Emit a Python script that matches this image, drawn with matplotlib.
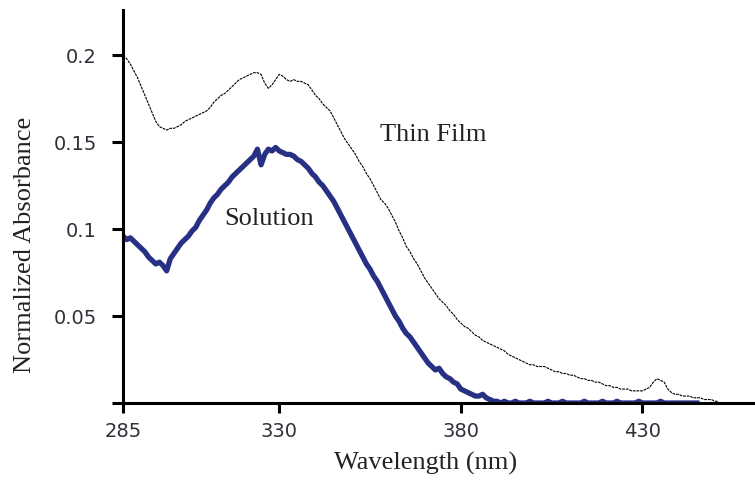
import numpy as np
import matplotlib
matplotlib.use("Agg")
import matplotlib.pyplot as plt

# wavelength grid (nm), one reading per nm
film_nm = np.arange(287, 452)
film_abs = [
    0.200, 0.198, 0.195, 0.191, 0.187, 0.182, 0.177, 0.172, 0.167, 0.162,
    0.159, 0.158, 0.157, 0.158, 0.158, 0.159, 0.160, 0.162, 0.163, 0.164,
    0.165, 0.166, 0.167, 0.168, 0.170, 0.173, 0.175, 0.177, 0.178, 0.180,
    0.182, 0.184, 0.186, 0.187, 0.188, 0.189, 0.190, 0.190, 0.189, 0.184,
    0.181, 0.183, 0.186, 0.189, 0.188, 0.186, 0.185, 0.186, 0.185, 0.185,
    0.184, 0.183, 0.180, 0.177, 0.175, 0.172, 0.170, 0.168, 0.164, 0.160,
    0.156, 0.152, 0.149, 0.146, 0.143, 0.139, 0.136, 0.132, 0.129, 0.125,
    0.121, 0.117, 0.115, 0.112, 0.108, 0.104, 0.099, 0.095, 0.090, 0.087,
    0.083, 0.080, 0.076, 0.072, 0.069, 0.066, 0.063, 0.060, 0.058, 0.056,
    0.053, 0.051, 0.048, 0.046, 0.044, 0.043, 0.041, 0.039, 0.038, 0.036,
    0.035, 0.034, 0.033, 0.032, 0.031, 0.030, 0.028, 0.027, 0.026, 0.025,
    0.024, 0.023, 0.022, 0.022, 0.021, 0.021, 0.021, 0.020, 0.019, 0.018,
    0.018, 0.017, 0.017, 0.016, 0.016, 0.015, 0.014, 0.014, 0.013, 0.013,
    0.012, 0.012, 0.011, 0.010, 0.010, 0.009, 0.009, 0.008, 0.008, 0.008,
    0.007, 0.007, 0.007, 0.007, 0.008, 0.009, 0.012, 0.014, 0.013, 0.012,
    0.008, 0.006, 0.005, 0.005, 0.004, 0.004, 0.004, 0.003, 0.003, 0.003,
    0.002, 0.002, 0.002, 0.001, 0.001,
]

sol_nm = np.arange(287, 446)
sol_abs = [
    0.096, 0.094, 0.095, 0.093, 0.091, 0.089, 0.087, 0.084, 0.082, 0.080,
    0.081, 0.079, 0.076, 0.083, 0.086, 0.089, 0.092, 0.094, 0.096, 0.099,
    0.101, 0.105, 0.108, 0.111, 0.115, 0.118, 0.120, 0.123, 0.125, 0.127,
    0.130, 0.132, 0.134, 0.136, 0.138, 0.140, 0.142, 0.146, 0.137, 0.143,
    0.146, 0.145, 0.147, 0.145, 0.144, 0.143, 0.143, 0.142, 0.140, 0.139,
    0.137, 0.135, 0.132, 0.130, 0.127, 0.125, 0.122, 0.119, 0.116, 0.112,
    0.108, 0.104, 0.100, 0.096, 0.092, 0.088, 0.084, 0.080, 0.077, 0.073,
    0.070, 0.066, 0.062, 0.058, 0.054, 0.050, 0.047, 0.043, 0.040, 0.038,
    0.035, 0.032, 0.029, 0.026, 0.023, 0.021, 0.019, 0.020, 0.017, 0.015,
    0.014, 0.012, 0.011, 0.008, 0.007, 0.006, 0.005, 0.004, 0.004, 0.005,
    0.003, 0.002, 0.001, 0.001, 0.000, 0.001, 0.000, 0.000, 0.001, 0.000,
    0.000, 0.000, 0.001, 0.000, 0.000, 0.000, 0.000, 0.001, 0.000, 0.000,
    0.000, 0.001, 0.000, 0.000, 0.000, 0.000, 0.000, 0.001, 0.000, 0.000,
    0.000, 0.000, 0.001, 0.000, 0.000, 0.000, 0.001, 0.000, 0.000, 0.000,
    0.000, 0.000, 0.001, 0.000, 0.000, 0.000, 0.000, 0.000, 0.001, 0.000,
    0.000, 0.000, 0.000, 0.000, 0.000, 0.000, 0.000, 0.000, 0.000,
]

x_ticks = [287, 330, 380, 430]
x_labels = ["285", "330", "380", "430"]
y_ticks = [0, 0.05, 0.1, 0.15, 0.2]
y_labels = ["", "0.05", "0.1", "0.15", "0.2"]

fig = plt.figure(figsize=(7.55, 4.83), dpi=100)
ax = fig.add_axes([0.163, 0.1656, 0.837, 0.8135])

ax.plot(film_nm, film_abs, color="black", lw=0.8, linestyle=(0, (2.5, 0.8)))
ax.plot(sol_nm, sol_abs, color="#283083", lw=3.8)

ax.set_xlim(287, 461)
ax.set_ylim(0, 0.226)

for side in ["top", "right"]:
    ax.spines[side].set_visible(False)
for side in ["left", "bottom"]:
    ax.spines[side].set_linewidth(2.2)

ax.set_xticks(x_ticks)
ax.set_xticklabels(x_labels)
ax.set_yticks(y_ticks)
ax.set_yticklabels(y_labels)
ax.tick_params(axis="x", length=7, width=2.2, pad=7, labelsize=14, labelcolor="#30303a")
ax.tick_params(axis="y", length=8, width=2.2, pad=11, labelsize=14, labelcolor="#30303a")

serif = "Liberation Serif"
ax.set_xlabel("Wavelength (nm)", family=serif, fontsize=19, color="#222222")
ax.set_ylabel("Normalized Absorbance", family=serif, fontsize=19, color="#222222")
ax.xaxis.set_label_coords(0.478, -0.125)
ax.yaxis.set_label_coords(-0.138, 0.402)

ax.text(357.8, 0.154, "Thin Film", family=serif, fontsize=19, color="#222222",
        ha="left", va="center")
ax.text(314.8, 0.106, "Solution", family=serif, fontsize=19, color="#222222",
        ha="left", va="center")

fig.savefig("out.png", dpi=100)
